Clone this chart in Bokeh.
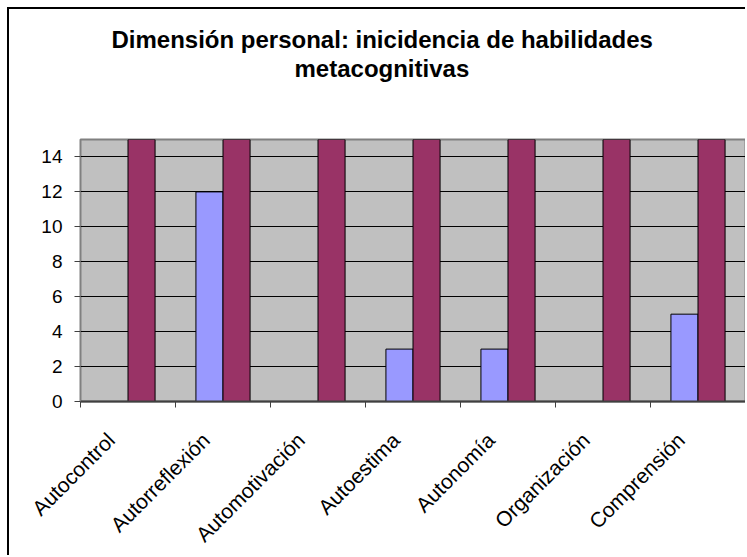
import math
from bokeh.plotting import figure
from bokeh.models import (ColumnDataSource, FixedTicker, Title, CDSView,
                          BooleanFilter, Range1d)
from bokeh.transform import dodge
from bokeh.embed import file_html
from bokeh.resources import INLINE

# ---- data ----
categories = ["Autocontrol", "Autorreflexión", "Automotivación", "Autoestima",
              "Autonomía", "Organización", "Comprensión"]
serie1 = [0, 12, 0, 3, 3, 0, 5]
serie2 = [15, 15, 15, 15, 15, 15, 15]
y_ticks = [0, 2, 4, 6, 8, 10, 12, 14]
title_line1 = "Dimensión personal: inicidencia de habilidades"
title_line2 = "metacognitivas"

n = len(categories)
y_max = 15
centers = [i + 0.5 for i in range(n)]
bounds = list(range(n + 1))
BAR_W = 0.285
LABEL_SHIFT = 0.18           # rotated labels end a little left of the centre
label_pos = [c - LABEL_SHIFT for c in centers]

FONT = "Liberation Sans"

p = figure(width=738, height=548, output_backend="svg", toolbar_location=None,
           title=None,
           x_range=Range1d(0, n), y_range=Range1d(0, y_max),
           min_border_left=71, min_border_right=2,
           min_border_top=130, min_border_bottom=156)
p.styles = {"margin-left": "7px", "margin-top": "7px",
            "border-left": "2px solid black", "border-top": "2px solid black"}
p.background_fill_color = "#C0C0C0"
p.border_fill_color = "white"
p.outline_line_color = "#808080"
p.outline_line_width = 2

# title block: a blank spacer next to the plot area, then the two lines
# (title is centred on the whole chart, left of the plot-area centre)
spacer = Title(text=" ", text_font_size="1px", standoff=54)
p.add_layout(spacer, "above")
t2 = Title(text=title_line2, align="left", text_font=FONT, offset=214,
           standoff=1, text_font_size="24px", text_font_style="bold",
           text_color="black")
p.add_layout(t2, "above")
t1 = Title(text=title_line1, align="left", text_font=FONT, offset=31,
           standoff=0, text_font_size="24px", text_font_style="bold",
           text_color="black")
p.add_layout(t1, "above")

src = ColumnDataSource(dict(x=centers, s1=serie1, s2=serie2))
view1 = CDSView(filter=BooleanFilter([v > 0 for v in serie1]))

p.vbar(x=dodge("x", -BAR_W / 2), top="s1", width=BAR_W, source=src, view=view1,
       fill_color="#9999FF", line_color="black", line_width=1)
p.vbar(x=dodge("x", BAR_W / 2), top="s2", width=BAR_W, source=src,
       fill_color="#993366", line_color="black", line_width=1)

# grid
p.xgrid.grid_line_color = None
p.ygrid.ticker = FixedTicker(ticks=y_ticks)
p.ygrid.grid_line_color = "black"
p.ygrid.grid_line_width = 1

# y axis
p.yaxis.ticker = FixedTicker(ticks=y_ticks)
p.yaxis.axis_line_color = "#808080"
p.yaxis.axis_line_width = 1
p.yaxis.major_tick_line_color = "#404040"
p.yaxis.major_tick_out = 6
p.yaxis.major_tick_in = 0
p.yaxis.minor_tick_line_color = None
p.yaxis.major_label_text_font = FONT
p.yaxis.major_label_text_font_size = "19px"
p.yaxis.major_label_text_color = "black"
p.yaxis.major_label_standoff = 12

# x axis: labels near centres, ticks at category boundaries
p.xaxis.ticker = FixedTicker(ticks=label_pos, minor_ticks=bounds)
p.xaxis.major_label_overrides = {c: cat for c, cat in zip(label_pos, categories)}
p.xaxis.major_tick_line_color = None
p.xaxis.major_tick_out = 6
p.xaxis.major_tick_in = 0
p.xaxis.minor_tick_line_color = "#404040"
p.xaxis.minor_tick_out = 6
p.xaxis.minor_tick_in = 0
p.xaxis.axis_line_color = "#404040"
p.xaxis.axis_line_width = 2
p.xaxis.major_label_orientation = math.pi / 4
p.xaxis.major_label_text_font = FONT
p.xaxis.major_label_text_font_size = "21px"
p.xaxis.major_label_text_color = "black"
p.xaxis.major_label_standoff = 29

open("out.html", "w").write(file_html(p, INLINE))
